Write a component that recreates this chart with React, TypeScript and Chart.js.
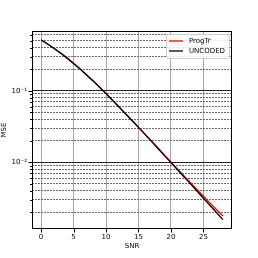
import React, { useEffect, useRef } from "react";
import { Chart, registerables } from "chart.js";

Chart.register(...registerables);

const snr = [0, 1, 2, 3, 4, 5, 6, 7, 8, 9, 10, 11, 12, 13, 14, 15, 16, 17, 18, 19, 20, 21, 22, 23, 24, 25, 26, 27, 28];
const progTr = [0.512, 0.45, 0.391, 0.337, 0.287, 0.242, 0.202, 0.167, 0.138, 0.1125, 0.0912, 0.0738, 0.0595, 0.0479, 0.0385, 0.0309, 0.0247, 0.0198, 0.0158, 0.0126, 0.0101, 0.00805, 0.00645, 0.00517, 0.00416, 0.00335, 0.00271, 0.00219, 0.00178];
const uncoded = [0.51, 0.448, 0.389, 0.335, 0.285, 0.24, 0.201, 0.166, 0.137, 0.112, 0.0909, 0.0736, 0.0593, 0.0477, 0.0383, 0.0307, 0.0245, 0.0196, 0.0156, 0.0124, 0.0099, 0.00788, 0.00627, 0.00499, 0.00397, 0.00315, 0.00251, 0.00199, 0.00158];
const xTicks = [0, 5, 10, 15, 20, 25];
const yTicks = [0.002, 0.003, 0.004, 0.005, 0.006, 0.007, 0.008, 0.009, 0.01, 0.02, 0.03, 0.04, 0.05, 0.06, 0.07, 0.08, 0.09, 0.1, 0.2, 0.3, 0.4, 0.5, 0.6];
const yDecadeLabels: Record<string, string> = { "0.1": "10⁻¹", "0.01": "10⁻²" };

const FONT = "'DejaVu Sans', sans-serif";

function isMajor(v: number) {
  return Math.abs(Math.log10(v) - Math.round(Math.log10(v))) < 1e-9;
}

const framePlugin = {
  id: "frame",
  afterDraw(chart: any) {
    const { ctx, chartArea } = chart;
    const { left, right, top, bottom } = chartArea;
    ctx.save();
    ctx.strokeStyle = "#000";
    ctx.lineWidth = 1;
    ctx.setLineDash([]);
    ctx.strokeRect(left + 0.5, top + 0.5, right - left - 1, bottom - top - 1);
    const ys = chart.scales.y;
    ys.ticks.forEach((t: any) => {
      const py = Math.round(ys.getPixelForValue(t.value)) + 0.5;
      const len = isMajor(t.value) ? 3.5 : 2;
      ctx.beginPath();
      ctx.moveTo(left, py);
      ctx.lineTo(left - len, py);
      ctx.stroke();
    });
    const xs = chart.scales.x;
    xs.ticks.forEach((t: any) => {
      const px = Math.round(xs.getPixelForValue(t.value)) + 0.5;
      ctx.beginPath();
      ctx.moveTo(px, bottom);
      ctx.lineTo(px, bottom + 3.5);
      ctx.stroke();
    });
    // legend
    const lx = 166, ly = 34, lw = 63, lh = 24;
    ctx.fillStyle = "rgba(255,255,255,0.85)";
    ctx.strokeStyle = "#cccccc";
    ctx.beginPath();
    ctx.roundRect(lx + 0.5, ly + 0.5, lw, lh, 2);
    ctx.fill();
    ctx.stroke();
    ctx.font = `7px ${FONT}`;
    ctx.textBaseline = "middle";
    ctx.textAlign = "left";
    chart.data.datasets.forEach((ds: any, i: number) => {
      const y = ly + 7 + i * 10;
      ctx.strokeStyle = ds.borderColor;
      ctx.lineWidth = 1.3;
      ctx.beginPath();
      ctx.moveTo(lx + 3, y);
      ctx.lineTo(lx + 17, y);
      ctx.stroke();
      ctx.fillStyle = "#000";
      ctx.fillText(ds.label, lx + 23, y);
    });
    ctx.restore();
  },
};

export default function App() {
  const ref = useRef<HTMLCanvasElement>(null);
  useEffect(() => {
    if (!ref.current) return;
    const chart = new Chart(ref.current, {
      type: "line",
      data: {
        labels: snr,
        datasets: [
          {
            label: "ProgTr",
            data: snr.map((x, i) => ({ x, y: progTr[i] })),
            borderColor: "#ff0000",
            borderWidth: 1.3,
            pointRadius: 0,
            tension: 0,
            order: 1,
          },
          {
            label: "UNCODED",
            data: snr.map((x, i) => ({ x, y: uncoded[i] })),
            borderColor: "#000000",
            borderWidth: 1.3,
            pointRadius: 0,
            tension: 0,
            order: 0,
          },
        ],
      },
      plugins: [framePlugin],
      options: {
        animation: false,
        responsive: false,
        devicePixelRatio: 1,
        layout: { padding: { top: 31, right: 26, left: 0, bottom: 0 } },
        plugins: { legend: { display: false }, tooltip: { enabled: false } },
        scales: {
          x: {
            type: "linear",
            min: -1.4,
            max: 29.4,
            afterBuildTicks: (s: any) => {
              s.ticks = xTicks.map((v) => ({ value: v }));
            },
            afterFit: (s: any) => {
              s.height = 29;
            },
            grid: { color: "rgba(0,0,0,0.35)", lineWidth: 1, drawTicks: false },
            border: { display: false },
            ticks: { font: { family: FONT, size: 7 }, color: "#000", padding: 4, maxRotation: 0 },
            title: { display: true, text: "SNR", font: { family: FONT, size: 7 }, color: "#000", padding: { top: 0, bottom: 8 } },
          },
          y: {
            type: "logarithmic",
            min: 0.00117,
            max: 0.682,
            afterBuildTicks: (s: any) => {
              s.ticks = yTicks.map((v) => ({ value: v, major: isMajor(v) }));
            },
            afterFit: (s: any) => {
              s.width = 32;
            },
            grid: {
              color: (c: any) => (c.tick && isMajor(c.tick.value) ? "#222" : "#444"),
              lineWidth: (c: any) => (c.tick && isMajor(c.tick.value) ? 1 : 0.8),
              drawTicks: false,
            },
            border: {
              display: false,
              dash: (c: any) => (c.tick && !isMajor(c.tick.value) ? [2, 1] : []),
            },
            ticks: {
              font: { family: FONT, size: 7 },
              color: "#000",
              padding: 5,
              autoSkip: false,
              callback: (v: any) => {
                const n = Number(v);
                if (Math.abs(n - 0.1) < 1e-9) return yDecadeLabels["0.1"];
                if (Math.abs(n - 0.01) < 1e-9) return yDecadeLabels["0.01"];
                return "";
              },
            },
            title: { display: true, text: "MSE", font: { family: FONT, size: 7 }, color: "#000", padding: { top: 0, bottom: 0 } },
          },
        },
      },
    });
    return () => chart.destroy();
  }, []);
  return (
    <div style={{ position: "absolute", left: 0, top: 0, width: 258, height: 258, background: "#fff" }}>
      <canvas ref={ref} width={258} height={258} style={{ width: 258, height: 258 }} />
    </div>
  );
}
